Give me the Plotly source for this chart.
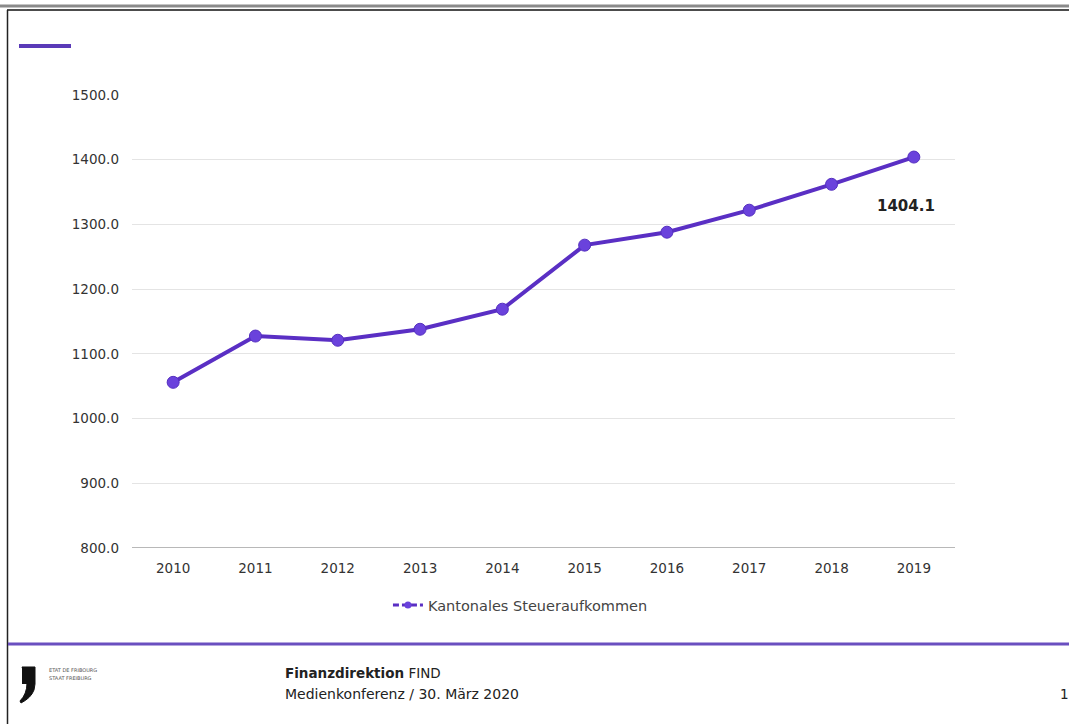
import plotly.graph_objects as go

years = [2010, 2011, 2012, 2013, 2014, 2015, 2016, 2017, 2018, 2019]
revenue = [1056.0, 1127.5, 1121.0, 1138.0, 1169.0, 1268.0, 1288.0, 1322.0, 1362.0, 1404.1]
series_name = "Kantonales Steueraufkommen"
y_ticks = [800, 900, 1000, 1100, 1200, 1300, 1400, 1500]

W, H = 1069, 724
L, R, T, B = 132, 955, 95, 548
FONT = "DejaVu Sans, Liberation Sans, Arial"


def fx(px):
    return (px - L) / (R - L)


def fy(py):
    return (B - py) / (B - T)


LINE = "#5a2fc4"
MARK = "#6a42dc"

fig = go.Figure()
fig.add_trace(go.Scatter(
    x=years, y=revenue, mode="lines+markers", name=series_name,
    line=dict(color=LINE, width=4),
    marker=dict(color=MARK, size=12, line=dict(color="#5530c0", width=1)),
    showlegend=False,
))
# legend-only entry (dashed look like the reference key)
fig.add_trace(go.Scatter(
    x=[None], y=[None], mode="lines+markers", name=series_name,
    line=dict(color=LINE, width=3, dash="6px,3px"),
    marker=dict(color=MARK, size=7),
    showlegend=True,
))

fig.add_annotation(x=years[-1], y=revenue[-1], text="<b>%.1f</b>" % revenue[-1],
                   showarrow=False, xanchor="center", yanchor="middle", yshift=-49, xshift=-8,
                   font=dict(family=FONT, size=15, color="#222"))

shapes = [
    dict(type="line", xref="paper", yref="paper", x0=fx(0), x1=fx(W), y0=fy(6), y1=fy(6),
         line=dict(color="#8a8a8a", width=3)),
    dict(type="line", xref="paper", yref="paper", x0=fx(7), x1=fx(W), y0=fy(10), y1=fy(10),
         line=dict(color="#111", width=1.5)),
    dict(type="line", xref="paper", yref="paper", x0=fx(7.5), x1=fx(7.5), y0=fy(10), y1=fy(H),
         line=dict(color="#222", width=1.5)),
    dict(type="line", xref="paper", yref="paper", x0=fx(19), x1=fx(71), y0=fy(46), y1=fy(46),
         line=dict(color="#5a3ab8", width=4)),
    dict(type="line", xref="paper", yref="paper", x0=fx(8), x1=fx(W), y0=fy(644), y1=fy(644),
         line=dict(color="#6a4fc0", width=3)),
    dict(type="path", xref="paper", yref="paper",
         path="M %f,%f L %f,%f L %f,%f L %f,%f Q %f,%f %f,%f L %f,%f Q %f,%f %f,%f Z" % (
             fx(22), fy(667), fx(35), fy(667), fx(35), fy(684), fx(34), fy(690),
             fx(31), fy(698), fx(21), fy(703), fx(20), fy(701),
             fx(27), fy(694), fx(27), fy(683)),
         fillcolor="#111", line=dict(color="#111", width=1)),
    dict(type="rect", xref="paper", yref="paper", x0=fx(22), x1=fx(35), y0=fy(667), y1=fy(684),
         fillcolor="#111", line=dict(width=0)),
    # baseline at 800
    dict(type="line", xref="paper", yref="y", x0=0, x1=1, y0=800, y1=800,
         line=dict(color="#b8b8b8", width=2)),
]

ann = [
    dict(x=fx(47), y=fy(665), text="ETAT DE FRIBOURG", font=dict(size=5, color="#555")),
    dict(x=fx(47), y=fy(673), text="STAAT FREIBURG", font=dict(size=5, color="#555")),
    dict(x=fx(283), y=fy(663), text="<b>Finanzdirektion</b> FIND", font=dict(size=13.5, color="#222")),
    dict(x=fx(283), y=fy(684), text="Medienkonferenz / 30. März 2020", font=dict(size=14, color="#222")),
    dict(x=fx(1058), y=fy(684), text="1", font=dict(size=13.5, color="#222")),
]
for a in ann:
    fig.add_annotation(xref="paper", yref="paper", showarrow=False, xanchor="left", yanchor="top",
                       x=a["x"], y=a["y"], text=a["text"],
                       font=dict(family=FONT, **a["font"]))

fig.update_layout(
    width=W, height=H,
    margin=dict(l=L, r=W - R, t=T, b=H - B),
    paper_bgcolor="white", plot_bgcolor="white",
    font=dict(family=FONT, size=13, color="#444"),
    shapes=shapes,
    showlegend=True,
    legend=dict(orientation="h", x=0.472, xanchor="center", y=fy(589), yanchor="top",
                font=dict(family=FONT, size=14.5, color="#444"), bgcolor="rgba(0,0,0,0)"),
    xaxis=dict(range=[2009.5, 2019.5], tickvals=years, ticktext=[str(y) for y in years],
               showgrid=False, showline=False, zeroline=False, ticks="",
               tickfont=dict(size=13.5, color="#333"), ticklabelstandoff=10),
    yaxis=dict(range=[800, 1500], tickvals=y_ticks, ticktext=["%.1f" % v for v in y_ticks],
               showgrid=True, gridcolor="#e4e4e4", gridwidth=1, zeroline=False,
               showline=False, ticks="", tickfont=dict(size=13.5, color="#333"), ticklabelstandoff=12),
)

fig.write_html("out.html")
